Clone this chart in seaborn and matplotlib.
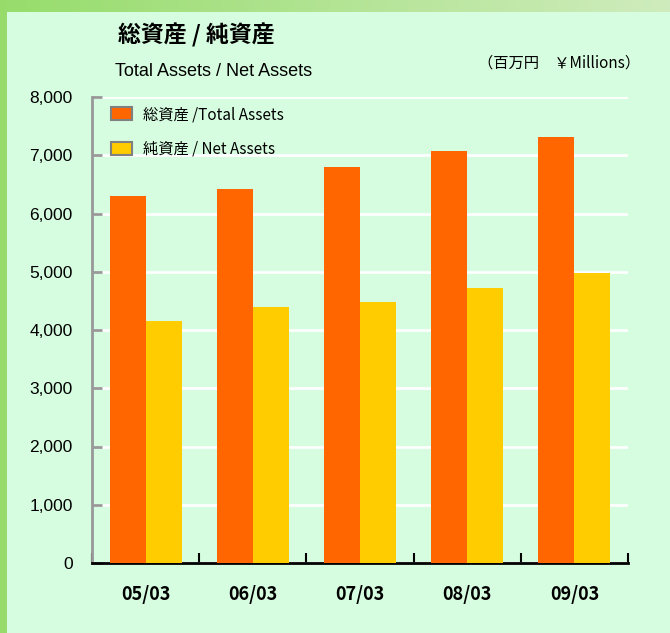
import numpy as np
import pandas as pd
import seaborn as sns
import matplotlib.pyplot as plt
from matplotlib.patches import Rectangle
from matplotlib.ticker import FixedLocator

periods = ["05/03", "06/03", "07/03", "08/03", "09/03"]
total_assets = [6300, 6420, 6800, 7070, 7310]
net_assets = [4150, 4390, 4480, 4720, 4970]
series_names = ["総資産 /Total Assets", "純資産 / Net Assets"]
yticks = [0, 1000, 2000, 3000, 4000, 5000, 6000, 7000, 8000]

df = pd.DataFrame({
    "period": periods * 2,
    "value": total_assets + net_assets,
    "series": [series_names[0]] * 5 + [series_names[1]] * 5,
})

sns.set_theme(style="white")
plt.rcParams["font.family"] = ["Noto Sans CJK JP", "DejaVu Sans"]
plt.rcParams["text.color"] = "black"
plt.rcParams["xtick.color"] = "black"
plt.rcParams["ytick.color"] = "black"

fig = plt.figure(figsize=(6.7, 6.33), dpi=100)
fig.patch.set_facecolor("#a3e37a")

# soft green gradient outside the panel
bg = fig.add_axes([0, 0, 1, 1], zorder=-2)
grad = np.linspace(0, 1, 256).reshape(1, -1)
bg.imshow(np.vstack([grad] * 2), aspect="auto", cmap=sns.light_palette("#8fd862", as_cmap=True, reverse=True),
          extent=[0, 1, 0, 1], alpha=0.6)
bg.set_axis_off()
fig.patches.append(Rectangle((7 / 670, 0), 1, 1 - 12 / 633, transform=fig.transFigure,
                             facecolor="#d7fde0", edgecolor="none", zorder=-1))

ax = fig.add_axes([92 / 670, 70 / 633, 536 / 670, 466 / 633])
ax.set_facecolor("#d7fde0")
sns.barplot(data=df, x="period", y="value", hue="series", ax=ax,
            palette=["#ff6600", "#ffcc00"], saturation=1, width=0.67,
            edgecolor="none", zorder=3)

ax.set_ylim(0, 8000)
ax.set_xlim(-0.5, 4.5)
ax.set_yticks(yticks)
ax.set_yticklabels([f"{v:,}" for v in yticks])
for lab in ax.get_yticklabels():
    lab.set_fontfamily(["Liberation Sans", "DejaVu Sans"])
    lab.set_fontsize(12.5)
ax.yaxis.grid(True, color="white", linewidth=2, zorder=0)
ax.set_axisbelow(True)
ax.set_xlabel("")
ax.set_ylabel("")

for s in ["top", "right"]:
    ax.spines[s].set_visible(False)
ax.spines["left"].set_color("#999999")
ax.spines["left"].set_linewidth(2)
ax.spines["bottom"].set_color("black")
ax.spines["bottom"].set_linewidth(2)

ax.tick_params(axis="y", direction="in", length=7, width=2, color="#999999", left=True, pad=14)
ax.tick_params(axis="x", which="major", length=0, pad=16)
ax.xaxis.set_minor_locator(FixedLocator(np.arange(-0.5, 5, 1)))
ax.tick_params(axis="x", which="minor", direction="in", length=7, width=1.5, color="black", bottom=True)
for lab in ax.get_xticklabels():
    lab.set_fontsize(13)
    lab.set_fontweight("bold")

handles, labels = ax.get_legend_handles_labels()
for h in handles:
    h.set_edgecolor("#808080")
    h.set_linewidth(1.5)
ax.legend(handles, labels, loc="upper left", bbox_to_anchor=(0.01, 1.01), frameon=False,
          fontsize=11, handlelength=1.4, handleheight=0.9, labelspacing=1.15, handletextpad=0.7)

fig.text(118 / 670, 1 - 35 / 633, "総資産 / 純資産", fontsize=16.5, fontweight="bold", va="center")
fig.text(115 / 670, 1 - 72 / 633, "Total Assets / Net Assets", fontsize=13, va="center",
         family=["Liberation Sans", "DejaVu Sans"])
fig.text(640 / 670, 1 - 63 / 633, "（百万円　￥Millions）", fontsize=11, va="center", ha="right")

fig.savefig("out.png", dpi=100, facecolor=fig.get_facecolor())
